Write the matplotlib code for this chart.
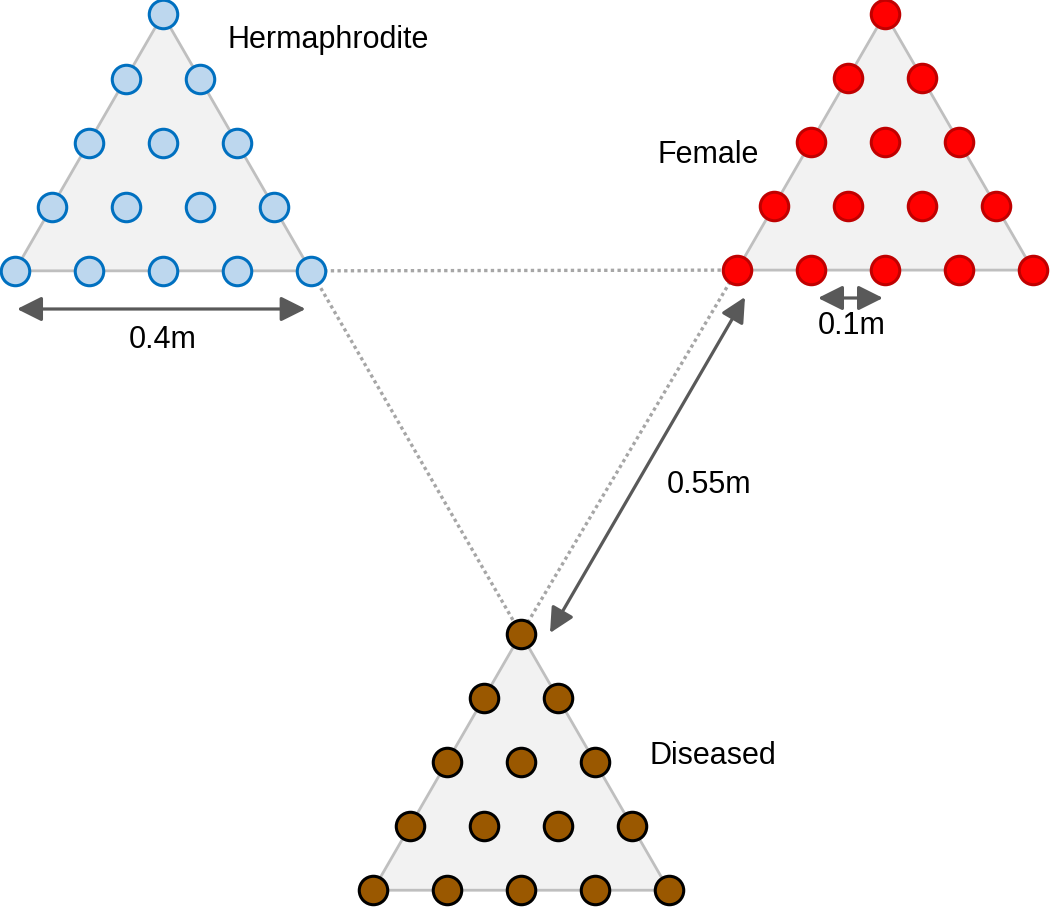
import numpy as np
import matplotlib.pyplot as plt
from matplotlib.patches import Polygon

plt.rcParams['font.family'] = ['Liberation Sans', 'DejaVu Sans']

# layout in metres (origin top-left of the picture, y grows downward)
spacing = 0.1                      # distance between neighbouring plants
row_counts = [1, 2, 3, 4, 5]       # plants per row, top to bottom
groups = ['Hermaphrodite', 'Female', 'Diseased']
origin_x = [0.020, 0.996, 0.504]   # bottom-left plant of each triangle
origin_y = [0.366, 0.365, 1.203]
face_colors = ['#bdd7ee', '#ff0000', '#9a5800']
edge_colors = ['#0070c0', '#c00000', '#000000']
label_x = [0.308, 0.889, 0.878]
label_y = [0.054, 0.210, 1.022]

# dimension labels
dim_labels = ['0.4m', '0.1m', '0.55m']

px_per_m = 740.0
fig = plt.figure(figsize=(10.5, 9.07), dpi=100)
ax = fig.add_axes([0, 0, 1, 1])
ax.set_xlim(0, 1050 / px_per_m)
ax.set_ylim(907 / px_per_m, 0)
ax.set_aspect('equal')
ax.axis('off')

row_h = spacing * np.sqrt(3) / 2
n_rows = len(row_counts)
corners = []
for g in range(len(groups)):
    ox, oy = origin_x[g], origin_y[g]
    xs, ys = [], []
    for r, n in enumerate(row_counts):
        y = oy - (n_rows - 1 - r) * row_h
        x0 = ox + (n_rows - n) * spacing / 2
        for k in range(n):
            xs.append(x0 + k * spacing)
            ys.append(y)
    top = (ox + (n_rows - 1) * spacing / 2, oy - (n_rows - 1) * row_h)
    bl = (ox, oy)
    br = (ox + (n_rows - 1) * spacing, oy)
    corners.append((top, bl, br))
    ax.add_patch(Polygon([top, bl, br], closed=True, facecolor='#f2f2f2',
                         edgecolor='#bfbfbf', lw=2.0, zorder=1))
    ax.scatter(xs, ys, s=20.5**2, c=face_colors[g], edgecolors=edge_colors[g],
               linewidths=2.2, zorder=3)
    ax.text(label_x[g], label_y[g], groups[g], fontsize=22, ha='left',
            va='center', color='black')

# dotted triangle between the groups
herm_br = corners[0][2]
fem_bl = corners[1][1]
dis_top = corners[2][0]
for a, b in [(herm_br, fem_bl), (herm_br, dis_top), (fem_bl, dis_top)]:
    ax.plot([a[0], b[0]], [a[1], b[1]], color='#a6a6a6', lw=2.4,
            ls=(0, (1, 1)), zorder=2)

arrow_style = dict(arrowstyle='<|-|>,head_length=1.5,head_width=0.75',
                   color='#595959', lw=2.3, shrinkA=0, shrinkB=0)

# 0.4m arrow under the hermaphrodite triangle
y_a = 309 / px_per_m
ax.annotate('', xy=(corners[0][1][0] + 0.003, y_a), xytext=(corners[0][2][0] - 0.007, y_a),
            arrowprops=arrow_style)
ax.text((corners[0][1][0] + corners[0][2][0]) / 2, 340 / px_per_m, dim_labels[0],
        fontsize=22, ha='center', va='center')

# 0.1m arrow under the female triangle
y_b = 298 / px_per_m
ax.annotate('', xy=(818 / px_per_m, y_b), xytext=(883 / px_per_m, y_b),
            arrowprops=arrow_style)
ax.text(852 / px_per_m, 326 / px_per_m, dim_labels[1], fontsize=22,
        ha='center', va='center')

# 0.55m arrow from diseased to female
ax.annotate('', xy=(550 / px_per_m, 633 / px_per_m), xytext=(745 / px_per_m, 297 / px_per_m),
            arrowprops=arrow_style)
ax.text(667 / px_per_m, 485 / px_per_m, dim_labels[2], fontsize=22,
        ha='left', va='center')

fig.savefig('out.png', dpi=100, facecolor='white')
